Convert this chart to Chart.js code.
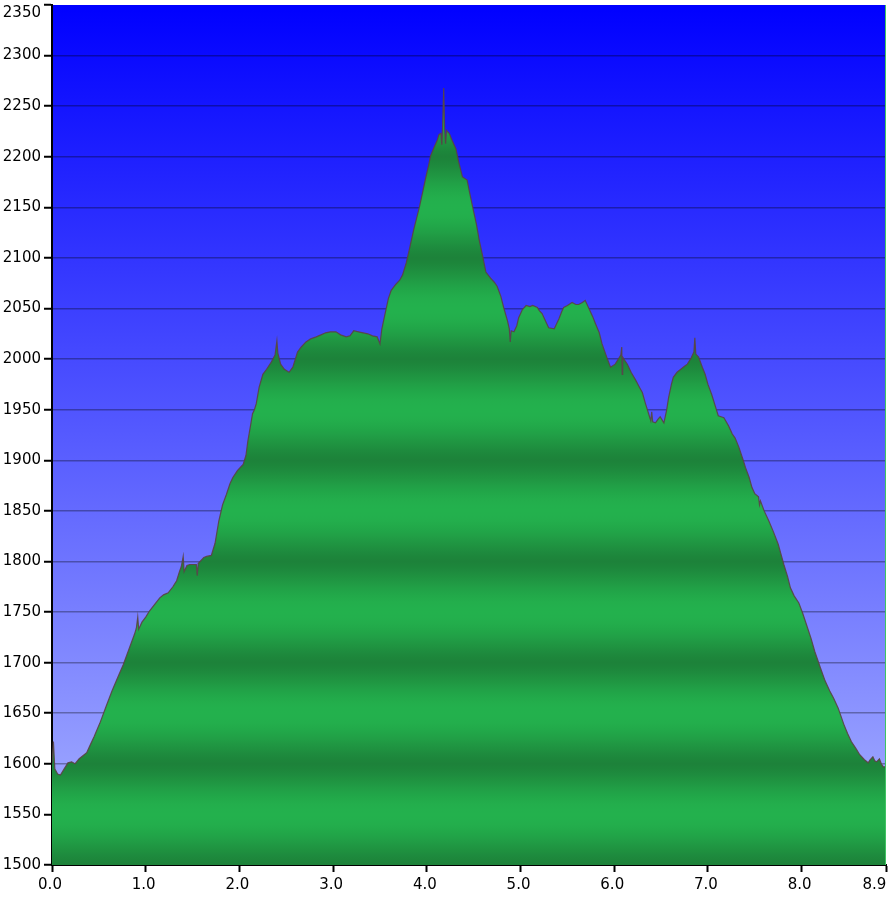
<!DOCTYPE html>
<html><head><meta charset="utf-8">
<script src="https://cdn.jsdelivr.net/npm/chart.js@4.4.1/dist/chart.umd.min.js"></script>
<style>html,body{margin:0;padding:0;background:#fff;}#wrap{width:890px;height:900px;}</style>
</head><body><div id="wrap"><canvas id="c" width="890" height="900"></canvas></div>
<script>
const distanceKm = [0.00,0.015,0.03,0.06,0.09,0.13,0.17,0.21,0.245,0.29,0.33,0.37,0.40,0.45,0.51,0.57,0.64,0.70,0.76,0.82,0.88,0.90,0.915,0.925,0.96,1.00,1.04,1.10,1.15,1.19,1.24,1.29,1.33,1.36,1.38,1.40,1.41,1.44,1.47,1.51,1.54,1.55,1.56,1.58,1.62,1.65,1.70,1.74,1.78,1.82,1.86,1.90,1.93,1.98,2.04,2.07,2.09,2.12,2.14,2.16,2.18,2.21,2.25,2.29,2.34,2.38,2.40,2.41,2.44,2.48,2.53,2.57,2.62,2.66,2.71,2.76,2.82,2.87,2.92,2.97,3.03,3.08,3.14,3.18,3.22,3.27,3.32,3.37,3.42,3.47,3.50,3.52,3.55,3.59,3.62,3.67,3.71,3.74,3.78,3.81,3.86,3.92,3.96,3.99,4.02,4.04,4.08,4.11,4.13,4.15,4.16,4.17,4.18,4.19,4.20,4.21,4.24,4.27,4.31,4.34,4.38,4.43,4.46,4.49,4.53,4.56,4.60,4.63,4.68,4.72,4.75,4.79,4.82,4.86,4.88,4.89,4.90,4.93,4.96,4.98,5.02,5.06,5.10,5.13,5.18,5.20,5.23,5.27,5.30,5.36,5.38,5.41,5.44,5.46,5.50,5.55,5.59,5.62,5.66,5.69,5.73,5.77,5.80,5.84,5.87,5.92,5.96,6.01,6.05,6.07,6.08,6.085,6.09,6.11,6.14,6.18,6.23,6.27,6.30,6.33,6.35,6.37,6.39,6.40,6.41,6.44,6.47,6.49,6.51,6.53,6.56,6.58,6.61,6.63,6.67,6.71,6.75,6.78,6.82,6.85,6.86,6.87,6.90,6.94,6.97,7.00,7.04,7.08,7.11,7.14,7.17,7.22,7.26,7.29,7.33,7.38,7.40,7.44,7.47,7.50,7.54,7.55,7.56,7.60,7.65,7.70,7.75,7.78,7.81,7.85,7.88,7.92,7.97,8.01,8.05,8.10,8.14,8.20,8.25,8.30,8.34,8.39,8.45,8.49,8.53,8.58,8.62,8.67,8.71,8.73,8.76,8.78,8.80,8.83,8.85,8.87,8.90];
const elevationM = [1600,1622,1595,1590,1589,1595,1601,1602,1600,1605,1608,1611,1617,1627,1640,1655,1672,1685,1698,1713,1728,1734,1745,1733,1740,1745,1751,1758,1764,1767,1769,1775,1781,1790,1795,1805,1790,1796,1797,1797,1797,1786,1798,1800,1804,1805,1806,1818,1840,1856,1866,1877,1883,1890,1896,1905,1919,1935,1946,1950,1956,1972,1985,1990,1997,2004,2018,2006,1995,1990,1987,1992,2007,2012,2017,2020,2022,2024,2026,2027,2027,2024,2022,2023,2028,2027,2026,2025,2023,2022,2015,2030,2043,2060,2068,2074,2078,2083,2095,2107,2128,2150,2167,2180,2192,2201,2210,2216,2222,2223,2212,2235,2268,2228,2213,2226,2223,2216,2208,2195,2180,2177,2163,2150,2133,2117,2100,2086,2080,2076,2072,2062,2051,2038,2030,2017,2028,2027,2033,2041,2049,2053,2052,2053,2051,2048,2045,2037,2031,2030,2034,2040,2047,2051,2053,2056,2054,2054,2056,2058,2050,2042,2035,2026,2015,2002,1992,1995,2001,2004,2012,1985,2002,1999,1995,1987,1979,1972,1967,1957,1951,1945,1939,1948,1938,1937,1941,1943,1940,1937,1950,1962,1975,1982,1987,1990,1993,1995,2001,2007,2021,2005,2002,1992,1985,1975,1965,1953,1944,1943,1942,1934,1926,1922,1913,1899,1893,1883,1873,1867,1864,1856,1860,1850,1840,1829,1817,1807,1797,1785,1774,1766,1759,1749,1738,1724,1711,1695,1682,1672,1665,1655,1639,1630,1622,1615,1609,1604,1601,1604,1607,1603,1602,1605,1600,1597,1597];
const xTickValues = [0,1,2,3,4,5,6,7,8,8.9];
const xTickLabels = ['0.0','1.0','2.0','3.0','4.0','5.0','6.0','7.0','8.0','8.9'];
const yTickValues = [1500,1550,1600,1650,1700,1750,1800,1850,1900,1950,2000,2050,2100,2150,2200,2250,2300,2350];

const FONT = 'DejaVu Sans, Verdana, sans-serif';
const DARK = [29,130,58], BRIGHT = [35,177,77];

function mix(a,b,t){return 'rgb('+a.map((v,i)=>Math.round(v+(b[i]-v)*t)).join(',')+')';}

function bandFill(context){
  const chart = context.chart;
  const area = chart.chartArea;
  if(!area) return mix(DARK,BRIGHT,0.5);
  const ys = chart.scales.y;
  const top = area.top, bot = area.bottom;
  const g = chart.ctx.createLinearGradient(0, top, 0, bot);
  for(let v = ys.min; v <= ys.max; v += 5){
    const phase = ((v - ys.min) % 100) / 100;
    const t = Math.pow((1 - Math.cos(2*Math.PI*phase)) / 2, 0.7);
    const p = (ys.getPixelForValue(v) - top) / (bot - top);
    g.addColorStop(Math.min(1, Math.max(0, p)), mix(DARK, BRIGHT, t));
  }
  return g;
}

const bgPlugin = {
  id: 'bg',
  beforeDraw(chart){
    const {ctx, chartArea:a} = chart;
    const g = ctx.createLinearGradient(0, a.top, 0, a.bottom);
    g.addColorStop(0, '#0000ff');
    g.addColorStop(1, '#aab4ff');
    ctx.save();
    ctx.fillStyle = g;
    ctx.fillRect(a.left, a.top, a.right - a.left, a.bottom - a.top);
    ctx.restore();
  },
  afterDraw(chart){
    const {ctx, chartArea:a} = chart;
    ctx.save();
    ctx.strokeStyle = '#3fc462';
    ctx.lineWidth = 1;
    ctx.beginPath();
    ctx.moveTo(a.right - 0.5, a.top);
    ctx.lineTo(a.right - 0.5, a.bottom);
    ctx.stroke();
    ctx.restore();
  }
};

const points = distanceKm.map((d, i) => ({x: d, y: elevationM[i]}));

new Chart(document.getElementById('c'), {
  type: 'line',
  data: {
    datasets: [{
      data: points,
      fill: 'start',
      backgroundColor: bandFill,
      borderColor: 'rgba(90,66,68,0.9)',
      borderWidth: 1.2,
      pointRadius: 0,
      tension: 0
    }]
  },
  plugins: [bgPlugin],
  options: {
    responsive: false,
    animation: false,
    layout: {padding: {top: 5, right: 4, left: 0, bottom: 0}},
    plugins: {legend: {display: false}, tooltip: {enabled: false}},
    scales: {
      x: {
        type: 'linear', min: 0, max: 8.9, z: 1,
        afterBuildTicks: s => { s.ticks = xTickValues.map(v => ({value: v})); },
        afterFit: s => { s.height = 35; s.paddingLeft = 0; s.paddingRight = 0; },
        grid: {drawOnChartArea: false, drawTicks: true, tickLength: 7, tickColor: '#000', tickWidth: 2},
        border: {display: true, color: '#000', width: 2},
        ticks: {
          autoSkip: false, maxRotation: 0, padding: 4, color: '#000', labelOffset: -2,
          font: {family: FONT, size: 15},
          callback: (v, i) => i === xTickLabels.length - 1 ? xTickLabels[i] + '\u00a0'.repeat(4) : xTickLabels[i]
        }
      },
      y: {
        type: 'linear', min: 1500, max: 2350, z: 1,
        afterBuildTicks: s => { s.ticks = yTickValues.map(v => ({value: v})); },
        afterFit: s => { s.width = 52; s.paddingTop = 0; s.paddingBottom = 0; },
        grid: {
          color: ctx => (ctx.tick && ctx.tick.value === 2350) ? 'rgba(0,0,0,0)' : 'rgba(0,0,0,0.32)',
          lineWidth: 1.5, drawTicks: true, tickLength: 8, tickColor: '#000', tickWidth: 2
        },
        border: {display: true, color: '#000', width: 2},
        ticks: {
          padding: 3, color: '#000',
          font: {family: FONT, size: 15, lineHeight: 1.05},
          callback: (v, i) => i === yTickValues.length - 1 ? ['', String(v)] : String(v)
        }
      }
    }
  }
});
</script>
</body></html>
